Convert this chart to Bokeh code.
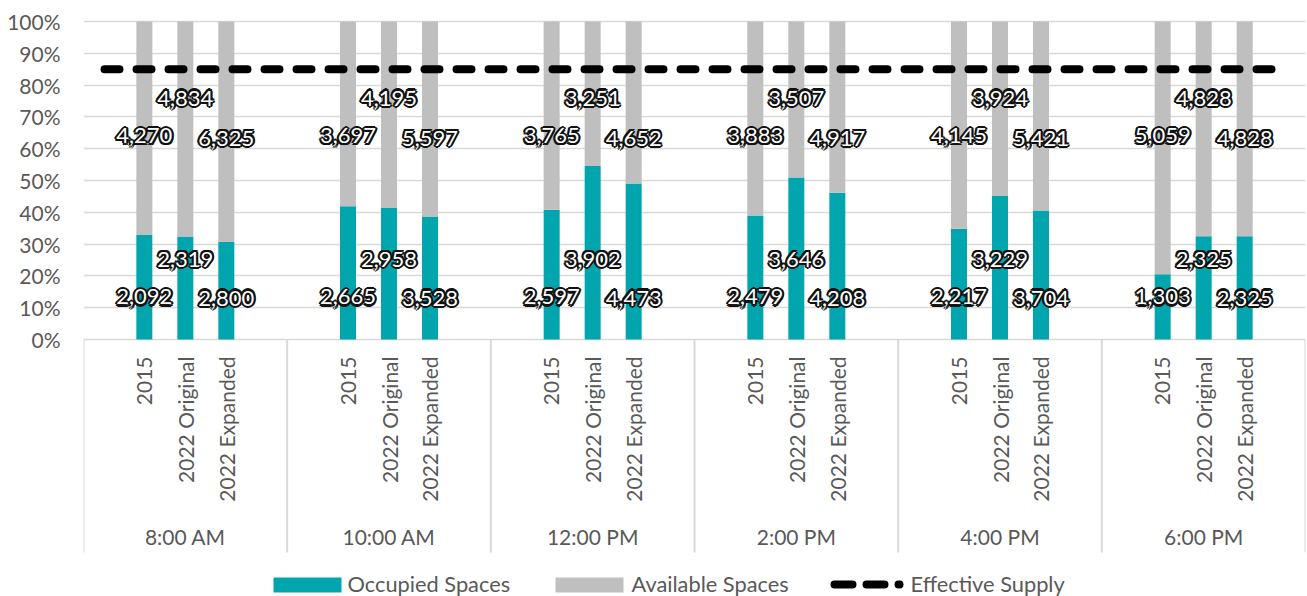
from bokeh.plotting import figure
from bokeh.models import Range1d, FixedTicker, NumeralTickFormatter, ColumnDataSource
from bokeh.core.properties import value
from bokeh.embed import file_html
from bokeh.resources import INLINE

# ---- data ----
times = ["8:00 AM", "10:00 AM", "12:00 PM", "2:00 PM", "4:00 PM", "6:00 PM"]
scenarios = ["2015", "2022 Original", "2022 Expanded"]

occupied_2015 = [2092, 2665, 2597, 2479, 2217, 1303]
occupied_2022_original = [2319, 2958, 3902, 3646, 3229, 2325]
occupied_2022_expanded = [2800, 3528, 4473, 4208, 3704, 2325]

available_2015 = [4270, 3697, 3765, 3883, 4145, 5059]
available_2022_original = [4834, 4195, 3251, 3507, 3924, 4828]
available_2022_expanded = [6325, 5597, 4652, 4917, 5421, 4828]

effective_supply = 0.85
y_ticks = [i / 10 for i in range(11)]

# ---- layout (pixel geometry of the canvas) ----
W, H = 1307, 596
LEFT, RIGHT = 83, 1305          # plot area edges
ZERO_PX, UNIT_PX = 339, 318     # y pixel of 0% and pixels per 100%
TOP_BORDER = 15
GW = (RIGHT - LEFT) / len(times)


def xd(px):
    return (px - LEFT) / GW


def yd(px):
    return (ZERO_PX - px) / UNIT_PX


TEAL = "#00A5AE"
GREY = "#BFBFBF"
GRID = "#D9D9D9"
TXT = "#595959"
FONT = value("Lato")

offsets = [-0.2013, 0.0, 0.2013]
bar_w = 16 / GW
occ_label_y = [0.134, 0.252, 0.13]
avail_label_y = [0.641, 0.759, 0.633]

occ_series = [occupied_2015, occupied_2022_original, occupied_2022_expanded]
avail_series = [available_2015, available_2022_original, available_2022_expanded]

rows = dict(x=[], share=[], occ=[], avail=[], occ_y=[], avail_y=[], scen=[])
for gi, t in enumerate(times):
    for si, s in enumerate(scenarios):
        o = occ_series[si][gi]
        a = avail_series[si][gi]
        rows["x"].append(gi + 0.5 + offsets[si])
        rows["share"].append(o / (o + a))
        rows["occ"].append(f"{o:,}")
        rows["avail"].append(f"{a:,}")
        rows["occ_y"].append(occ_label_y[si])
        rows["avail_y"].append(avail_label_y[si])
        rows["scen"].append(s)
src = ColumnDataSource(rows)

y_hi = 1 + (21 - TOP_BORDER) / UNIT_PX
y_lo = yd(H)

p = figure(width=W, height=H, x_range=Range1d(0, len(times)), y_range=Range1d(y_lo, y_hi),
           x_axis_location=None, toolbar_location=None, output_backend="svg",
           min_border_left=LEFT, min_border_right=W - RIGHT, min_border_top=TOP_BORDER,
           min_border_bottom=0, outline_line_color=None, background_fill_color="white")

# y axis and gridlines
p.yaxis.ticker = FixedTicker(ticks=y_ticks)
p.yaxis.formatter = NumeralTickFormatter(format="0%")
p.yaxis.axis_line_color = None
p.yaxis.major_tick_line_color = None
p.yaxis.minor_tick_line_color = None
p.yaxis.major_tick_out = 0
p.yaxis.major_label_standoff = 23
p.yaxis.major_label_text_font = "Lato"
p.yaxis.major_label_text_font_size = "21px"
p.yaxis.major_label_text_color = TXT
p.ygrid.grid_line_color = GRID
p.ygrid.grid_line_width = 1.5
p.xgrid.visible = False

# category separators below the axis
sep_x = list(range(len(times) + 1))
p.segment(x0=sep_x, y0=[0] * len(sep_x), x1=sep_x, y1=[yd(552)] * len(sep_x),
          line_color=GRID, line_width=2)

# stacked 100% bars
p.vbar(x="x", width=bar_w, bottom=0, top="share", source=src, fill_color=TEAL, line_color=None)
p.vbar(x="x", width=bar_w, bottom="share", top=1, source=src, fill_color=GREY, line_color=None)

# effective supply line
p.line(x=[xd(104), xd(1271)], y=[effective_supply, effective_supply], line_color="black",
       line_width=8, line_dash="15 17", line_cap="round")

# value labels: white text with a dark halo built from offset copies
halo = [(-1.6, -1.6), (-1.6, 1.6), (1.6, -1.6), (1.6, 1.6),
        (0, -2.2), (0, 2.2), (-2.2, 0), (2.2, 0)]
for col_y, col_t in (("occ_y", "occ"), ("avail_y", "avail")):
    for dx, dy in halo:
        p.text(x="x", y=col_y, text=col_t, source=src, text_font=FONT,
               text_font_size="22px", text_color="#111111", text_align="center",
               text_baseline="middle", x_offset=dx, y_offset=dy)
    p.text(x="x", y=col_y, text=col_t, source=src, text_font=FONT, text_font_size="22px",
           text_color="white", text_align="center", text_baseline="middle")

# scenario labels (rotated) and time labels
p.text(x="x", y=yd(356), text="scen", source=src, angle=1.5708,
       text_font=FONT, text_font_size="21px", text_color=TXT, text_align="right",
       text_baseline="middle")
p.text(x=[i + 0.5 for i in range(len(times))], y=[yd(536)] * len(times), text=times,
       text_font=FONT, text_font_size="21px", text_color=TXT, text_align="center",
       text_baseline="middle")

# legend
p.quad(left=[xd(273), xd(555)], right=[xd(341), xd(623)], top=[yd(577)] * 2,
       bottom=[yd(592)] * 2, fill_color=[TEAL, GREY], line_color=None)
p.line(x=[xd(834), xd(899)], y=[yd(584)] * 2, line_color="black", line_width=8,
       line_dash="18 14", line_cap="round")
p.text(x=[xd(347), xd(631), xd(910)], y=[yd(583)] * 3,
       text=["Occupied Spaces", "Available Spaces", "Effective Supply"],
       text_font=FONT, text_font_size="21.8px", text_color=TXT, text_align="left",
       text_baseline="middle")

open("out.html", "w").write(file_html(p, INLINE))
